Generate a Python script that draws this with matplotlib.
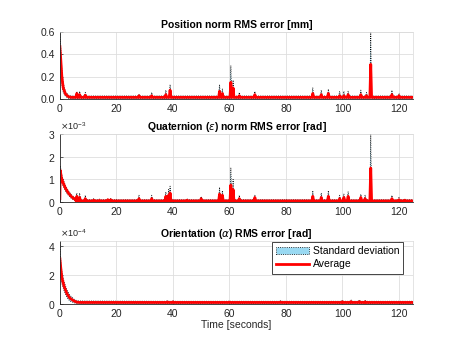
import matplotlib
matplotlib.use('Agg')  # no UI backend

import numpy as np
import matplotlib.pyplot as plt
from matplotlib.patches import Patch
from matplotlib.lines import Line2D
from matplotlib.ticker import ScalarFormatter

plt.rcParams['font.family'] = ['Liberation Sans', 'DejaVu Sans']
plt.rcParams['mathtext.fontset'] = 'dejavusans'

# ---- data ----
# initial transient: time [s], mean, upper edge of std band
pos_decay_t = [0.0, 0.3, 0.7, 1.2, 2.0, 3.0, 4.0]
pos_decay_m = [0.47, 0.36, 0.20, 0.10, 0.045, 0.022, 0.016]
pos_decay_u = [0.60, 0.46, 0.27, 0.14, 0.065, 0.035, 0.028]
pos_base_m, pos_base_u = 0.016, 0.028
# spikes: time, mean peak, upper std edge
pos_spk_t = [6, 7, 9, 28, 32.5, 37.5, 39, 56.5, 57.5, 60.5, 61.3, 63.5, 69,
             89.5, 92.5, 95, 99, 100.5, 102, 106.5, 108.5, 110, 117.5, 120]
pos_spk_m = [0.05, 0.04, 0.035, 0.03, 0.03, 0.04, 0.08, 0.07, 0.05, 0.15, 0.10,
             0.03, 0.04, 0.05, 0.04, 0.05, 0.03, 0.03, 0.04, 0.04, 0.03, 0.31,
             0.04, 0.03]
pos_spk_u = [0.07, 0.07, 0.06, 0.04, 0.06, 0.08, 0.13, 0.13, 0.09, 0.30, 0.17,
             0.06, 0.07, 0.10, 0.08, 0.09, 0.07, 0.07, 0.07, 0.08, 0.06, 0.60,
             0.08, 0.05]

quat_decay_t = [0.0, 0.15, 0.5, 1.0, 2.0, 3.0, 4.0, 5.0, 6.0]
quat_decay_m = [0.15e-3, 1.4e-3, 1.1e-3, 0.9e-3, 0.6e-3, 0.4e-3, 0.25e-3, 0.15e-3, 0.08e-3]
quat_decay_u = [0.3e-3, 1.6e-3, 1.3e-3, 1.05e-3, 0.72e-3, 0.5e-3, 0.33e-3, 0.22e-3, 0.14e-3]
quat_base_m, quat_base_u = 0.05e-3, 0.1e-3
quat_spk_t = [6, 7, 9, 12, 14, 17, 18, 28, 32.5, 37.5, 38.5, 39, 45, 50, 56.5,
              57.5, 60.5, 61.3, 63.5, 69, 89.5, 92.5, 95, 99, 100.5, 102, 106.5,
              108, 110, 117.5, 120, 122]
quat_spk_m = [0.25e-3, 0.2e-3, 0.15e-3, 0.08e-3, 0.07e-3, 0.1e-3, 0.1e-3, 0.15e-3,
              0.15e-3, 0.25e-3, 0.3e-3, 0.4e-3, 0.08e-3, 0.15e-3, 0.35e-3, 0.3e-3,
              0.75e-3, 0.55e-3, 0.15e-3, 0.2e-3, 0.25e-3, 0.2e-3, 0.25e-3, 0.15e-3,
              0.2e-3, 0.25e-3, 0.2e-3, 0.15e-3, 1.5e-3, 0.15e-3, 0.1e-3, 0.08e-3]
quat_spk_u = [0.4e-3, 0.4e-3, 0.3e-3, 0.15e-3, 0.13e-3, 0.15e-3, 0.15e-3, 0.3e-3,
              0.3e-3, 0.45e-3, 0.55e-3, 0.7e-3, 0.15e-3, 0.25e-3, 0.65e-3, 0.5e-3,
              1.5e-3, 1.0e-3, 0.3e-3, 0.3e-3, 0.5e-3, 0.4e-3, 0.5e-3, 0.3e-3,
              0.35e-3, 0.45e-3, 0.35e-3, 0.3e-3, 3.0e-3, 0.3e-3, 0.2e-3, 0.15e-3]

ori_decay_t = [0.0, 0.3, 0.7, 1.5, 2.5, 3.5, 5.0, 6.0, 7.0]
ori_decay_m = [3.1e-4, 2.5e-4, 1.8e-4, 1.2e-4, 0.7e-4, 0.4e-4, 0.2e-4, 0.12e-4, 0.1e-4]
ori_decay_u = [4.2e-4, 3.0e-4, 2.2e-4, 1.5e-4, 0.95e-4, 0.6e-4, 0.32e-4, 0.22e-4, 0.2e-4]
ori_base_m, ori_base_u = 0.1e-4, 0.18e-4
ori_spk_t = [38, 40, 60, 78, 100, 103, 106, 108]
ori_spk_m = [0.13e-4, 0.13e-4, 0.12e-4, 0.12e-4, 0.14e-4, 0.15e-4, 0.15e-4, 0.14e-4]
ori_spk_u = [0.25e-4, 0.25e-4, 0.22e-4, 0.24e-4, 0.26e-4, 0.28e-4, 0.28e-4, 0.26e-4]

t_end = 125


def build(dt, dm, du, bm, bu, st, sm, su, w=0.3):
    t, m, u = list(dt), list(dm), list(du)
    for ts, ms, us in zip(st, sm, su):
        t += [ts - w, ts, ts + w]
        m += [bm, ms, bm]
        u += [bu, us, bu]
    t.append(t_end)
    m.append(bm)
    u.append(bu)
    t, m, u = np.array(t), np.array(m), np.array(u)
    lo = np.clip(2 * m - u, 0, None)
    return t, m, lo, u


panels = [
    (build(pos_decay_t, pos_decay_m, pos_decay_u, pos_base_m, pos_base_u,
           pos_spk_t, pos_spk_m, pos_spk_u),
     'Position norm RMS error [mm]', (0, 0.6), [0, 0.2, 0.4, 0.6], None),
    (build(quat_decay_t, quat_decay_m, quat_decay_u, quat_base_m, quat_base_u,
           quat_spk_t, quat_spk_m, quat_spk_u),
     r'Quaternion ($\epsilon$) norm RMS error [rad]', (0, 3e-3), [0, 1e-3, 2e-3, 3e-3], -3),
    (build(ori_decay_t, ori_decay_m, ori_decay_u, ori_base_m, ori_base_u,
           ori_spk_t, ori_spk_m, ori_spk_u),
     r'Orientation ($\alpha$) RMS error [rad]', (0, 4.3e-4), [0, 2e-4, 4e-4], -4),
]

fig = plt.figure(figsize=(4.57, 3.43), dpi=100)
boxes = [(0.711, 0.907), (0.411, 0.609), (0.114, 0.297)]
band_color = (0.6, 0.85, 0.95)
dark = (0.15, 0.15, 0.15)

for (data, title, ylim, yticks, exp), (b, tp) in zip(panels, boxes):
    t, m, lo, u = data
    ax = fig.add_axes([0.131, b, 0.904 - 0.131, tp - b])
    ax.fill_between(t, lo, u, facecolor=band_color, edgecolor='k',
                    linestyle=':', linewidth=0.6)
    ax.plot(t, m, color='red', linewidth=2)
    ax.set_xlim(0, t_end)
    ax.set_ylim(*ylim)
    ax.set_xticks([0, 20, 40, 60, 80, 100, 120])
    ax.set_yticks(yticks)
    ax.grid(True, color=(0.87, 0.87, 0.87), linewidth=0.6)
    ax.set_axisbelow(True)
    ax.tick_params(direction='in', length=2, width=0.5, labelsize=7.5,
                   colors=dark, labelcolor=dark)
    for side in ['left', 'bottom']:
        ax.spines[side].set_color(dark)
        ax.spines[side].set_linewidth(0.6)
    for side in ['top', 'right']:
        ax.spines[side].set_color((0.85, 0.85, 0.85))
        ax.spines[side].set_linewidth(0.5)
    if exp is not None:
        fmt = ScalarFormatter(useMathText=True)
        fmt.set_powerlimits((exp, exp))
        ax.yaxis.set_major_formatter(fmt)
        ax.yaxis.get_offset_text().set_fontsize(6.5)
        ax.yaxis.get_offset_text().set_color(dark)
    ax.set_title(title, fontsize=7.5, fontweight='bold', pad=3)

ax.set_xlabel('Time [seconds]', fontsize=7.5, color=dark, labelpad=1)
handles = [Patch(facecolor=band_color, edgecolor='k', linestyle=':', linewidth=0.6),
           Line2D([], [], color='red', linewidth=2)]
leg = ax.legend(handles, ['Standard deviation', 'Average'], loc='upper right',
                bbox_to_anchor=(0.975, 1.0), fontsize=7.5, fancybox=False,
                framealpha=1, edgecolor=dark, handlelength=3.2, borderpad=0.4,
                labelspacing=0.3, handletextpad=0.3, borderaxespad=0.1)
leg.get_frame().set_linewidth(0.6)

plt.savefig('out.png', dpi=100)
